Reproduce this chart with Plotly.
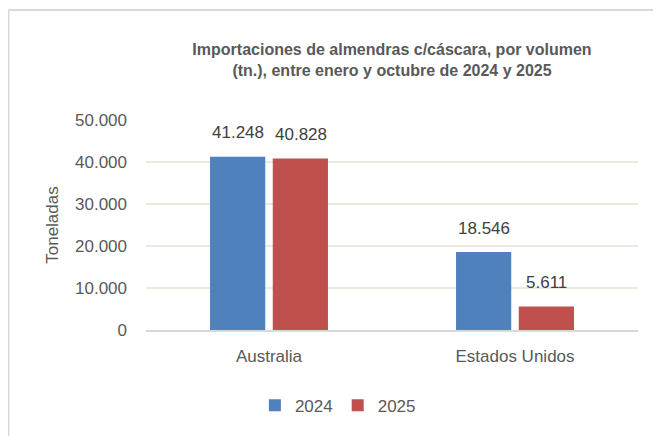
import plotly.graph_objects as go

categories = ["Australia", "Estados Unidos"]
series_names = ["2024", "2025"]
values_2024 = [41248, 18546]
values_2025 = [40828, 5611]
tick_values = [0, 10000, 20000, 30000, 40000, 50000]

colors = ["#4f81bd", "#c0504d"]
FONT = "Liberation Sans, Arial, sans-serif"
TXT = "#595959"

fig = go.Figure()
for name, vals, col in zip(series_names, [values_2024, values_2025], colors):
    fig.add_trace(go.Bar(
        x=categories, y=vals, name=name,
        marker=dict(color=col, line=dict(width=0)),
    ))

# data labels above bars
for i, vals in enumerate([values_2024, values_2025]):
    for cat, v in zip(categories, vals):
        fig.add_annotation(
            x=cat, y=v, xref="x", yref="y",
            text=f"{v:,}".replace(",", "."),
            showarrow=False, xanchor="center", yanchor="middle",
            xshift=(-31.5 if i == 0 else 31.5), yshift=24,
            font=dict(family=FONT, size=17, color="#404040"),
        )

# page has an 8px body margin, so figure coords = page coords - 8
W, H = 653, 428
L, R, T, B = 138, 23, 112, 106
pw, ph = W - L - R, H - T - B
bx = (0.5 - L) / pw
by = (H - B - 2) / ph

fig.update_layout(
    width=W, height=H,
    margin=dict(l=L, r=R, t=T, b=B, autoexpand=False),
    paper_bgcolor="white", plot_bgcolor="white",
    separators=",.",
    barmode="group", bargap=0.49, bargroupgap=0.12,
    title=dict(
        text="<b>Importaciones de almendras c/cáscara, por volumen<br>(tn.), entre enero y octubre de 2024 y 2025</b>",
        x=0.5, xref="paper", xanchor="center", y=1 - 47 / H, yanchor="middle",
        font=dict(family=FONT, size=16, color=TXT),
    ),
    font=dict(family=FONT, size=17, color=TXT),
    xaxis=dict(showgrid=False, showline=True, linecolor="#d9d9d9", linewidth=2,
               ticks="", ticklabelstandoff=10, automargin=False,
               tickfont=dict(size=17, color=TXT)),
    yaxis=dict(range=[0, 50000], tickvals=tick_values, tickformat=",d",
               showgrid=True, gridcolor="#ece9df", gridwidth=2,
               zeroline=False, ticks="", ticklabelstandoff=18, automargin=False,
               tickfont=dict(size=17, color=TXT),
               title=dict(text="Toneladas", font=dict(size=17, color=TXT), standoff=12)),
    legend=dict(orientation="h", x=0.39, xanchor="center", y=-0.36, yanchor="middle",
                font=dict(size=17, color=TXT), traceorder="normal",
                itemwidth=30),
    showlegend=True,
    shapes=[
        dict(type="line", xref="paper", yref="paper", x0=bx, x1=bx, y0=-1, y1=by,
             line=dict(color="#d9d9d9", width=2)),
        dict(type="line", xref="paper", yref="paper", x0=bx, x1=2, y0=by, y1=by,
             line=dict(color="#d9d9d9", width=2)),
    ],
)

fig.write_html("out.html")
